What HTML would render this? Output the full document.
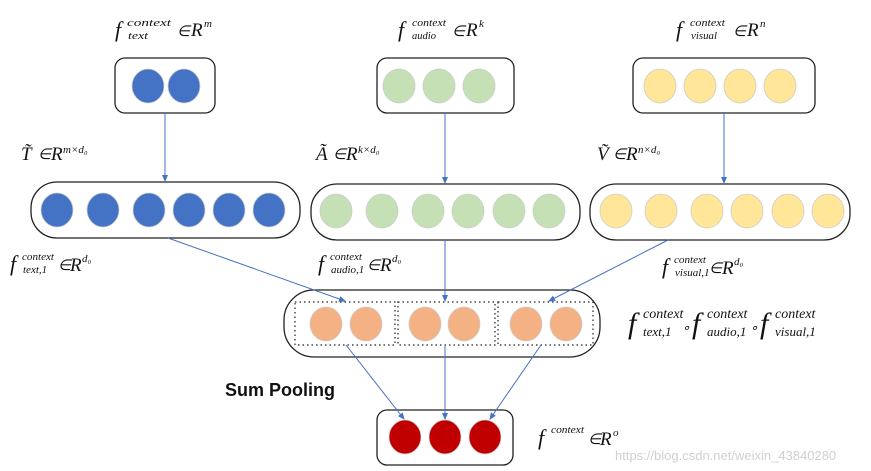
<!DOCTYPE html>
<html><head><meta charset="utf-8"><style>
html,body{margin:0;padding:0;background:#fff;}
svg{display:block;}
.m{font-family:"Liberation Serif",serif;font-style:italic;}
.s{font-family:"Liberation Serif",serif;font-style:italic;font-size:11px;}
</style></head><body>
<svg width="871" height="471" viewBox="0 0 871 471" xmlns="http://www.w3.org/2000/svg">
<defs>
<marker id="a" markerWidth="8" markerHeight="8" refX="6" refY="3" orient="auto" markerUnits="userSpaceOnUse">
<path d="M0,0 L7,3 L0,6 z" fill="#4472C4"/></marker>
</defs>
<g fill="none" stroke="#222" stroke-width="1.3">
<rect x="115" y="58" width="100" height="55" rx="10"/>
<rect x="377" y="58" width="137" height="55" rx="10"/>
<rect x="633" y="58" width="182" height="55" rx="10"/>
<rect x="31" y="182" width="269" height="56" rx="26"/>
<rect x="311" y="184" width="269" height="56" rx="26"/>
<rect x="590" y="184" width="260" height="56" rx="26"/>
<rect x="284" y="290" width="316" height="67" rx="30"/>
<rect x="377" y="410" width="136" height="55" rx="10"/>
</g>
<g fill="none" stroke="#222" stroke-width="1.2" stroke-dasharray="1.5,3">
<rect x="295" y="302" width="100" height="43"/>
<rect x="398" y="302" width="97" height="43"/>
<rect x="498" y="302" width="95" height="43"/>
</g>
<g stroke="#ccc" stroke-width="0.8">
<g fill="#4472C4">
<ellipse cx="148" cy="86" rx="16" ry="17"/><ellipse cx="184" cy="86" rx="16" ry="17"/>
<ellipse cx="57" cy="210" rx="16" ry="17"/><ellipse cx="103" cy="210" rx="16" ry="17"/><ellipse cx="149" cy="210" rx="16" ry="17"/><ellipse cx="189" cy="210" rx="16" ry="17"/><ellipse cx="229" cy="210" rx="16" ry="17"/><ellipse cx="269" cy="210" rx="16" ry="17"/>
</g>
<g fill="#C5E0B4">
<ellipse cx="399" cy="86" rx="16" ry="17"/><ellipse cx="439" cy="86" rx="16" ry="17"/><ellipse cx="479" cy="86" rx="16" ry="17"/>
<ellipse cx="336" cy="211" rx="16" ry="17"/><ellipse cx="382" cy="211" rx="16" ry="17"/><ellipse cx="428" cy="211" rx="16" ry="17"/><ellipse cx="468" cy="211" rx="16" ry="17"/><ellipse cx="509" cy="211" rx="16" ry="17"/><ellipse cx="549" cy="211" rx="16" ry="17"/>
</g>
<g fill="#FFE699">
<ellipse cx="660" cy="86" rx="16" ry="17"/><ellipse cx="700" cy="86" rx="16" ry="17"/><ellipse cx="740" cy="86" rx="16" ry="17"/><ellipse cx="780" cy="86" rx="16" ry="17"/>
<ellipse cx="616" cy="211" rx="16" ry="17"/><ellipse cx="661" cy="211" rx="16" ry="17"/><ellipse cx="707" cy="211" rx="16" ry="17"/><ellipse cx="747" cy="211" rx="16" ry="17"/><ellipse cx="788" cy="211" rx="16" ry="17"/><ellipse cx="828" cy="211" rx="16" ry="17"/>
</g>
<g fill="#F4B183">
<ellipse cx="326" cy="324" rx="16" ry="17"/><ellipse cx="366" cy="324" rx="16" ry="17"/><ellipse cx="425" cy="324" rx="16" ry="17"/><ellipse cx="464" cy="324" rx="16" ry="17"/><ellipse cx="526" cy="324" rx="16" ry="17"/><ellipse cx="566" cy="324" rx="16" ry="17"/>
</g>
<g fill="#C00000">
<ellipse cx="405" cy="437" rx="16" ry="17"/><ellipse cx="445" cy="437" rx="16" ry="17"/><ellipse cx="485" cy="437" rx="16" ry="17"/>
</g>
</g>
<g stroke="#4472C4" stroke-width="1" marker-end="url(#a)">
<line x1="165" y1="113" x2="165" y2="181"/>
<line x1="445" y1="113" x2="445" y2="183"/>
<line x1="724" y1="113" x2="724" y2="183"/>
<line x1="168" y1="238" x2="345" y2="301"/>
<line x1="445" y1="240" x2="445" y2="301"/>
<line x1="668" y1="240" x2="549" y2="301"/>
<line x1="346" y1="345" x2="404" y2="419"/>
<line x1="445" y1="345" x2="445" y2="419"/>
<line x1="541" y1="345" x2="490" y2="419"/>
</g>
<g fill="#111">
<text class="m" x="115" y="37" font-size="22">f</text><text class="s" x="127" y="26" textLength="44" lengthAdjust="spacingAndGlyphs">context</text><text class="s" x="128" y="39" textLength="20" lengthAdjust="spacingAndGlyphs">text</text><text class="m" x="177" y="36" font-size="15">∈</text><text class="m" x="191" y="36" font-size="19">R</text><text class="s" x="204" y="27">m</text>
<text class="m" x="398" y="37" font-size="22">f</text><text class="s" x="412" y="26" textLength="34" lengthAdjust="spacingAndGlyphs">context</text><text class="s" x="412" y="39" textLength="24" lengthAdjust="spacingAndGlyphs">audio</text><text class="m" x="452" y="36" font-size="15">∈</text><text class="m" x="466" y="36" font-size="19">R</text><text class="s" x="479" y="27">k</text>
<text class="m" x="676" y="37" font-size="22">f</text><text class="s" x="690" y="26" textLength="35" lengthAdjust="spacingAndGlyphs">context</text><text class="s" x="691" y="39" textLength="26" lengthAdjust="spacingAndGlyphs">visual</text><text class="m" x="733" y="36" font-size="15">∈</text><text class="m" x="747" y="36" font-size="19">R</text><text class="s" x="760" y="27">n</text>
<text class="m" x="21" y="160" font-size="19">T̃</text><text class="m" x="38" y="159" font-size="15">∈</text><text class="m" x="51" y="160" font-size="19">R</text><text class="s" x="63" y="153">m×d₀</text>
<text class="m" x="316" y="160" font-size="19">Ã</text><text class="m" x="333" y="159" font-size="15">∈</text><text class="m" x="346" y="160" font-size="19">R</text><text class="s" x="358" y="153">k×d₀</text>
<text class="m" x="597" y="160" font-size="19">Ṽ</text><text class="m" x="613" y="159" font-size="15">∈</text><text class="m" x="626" y="160" font-size="19">R</text><text class="s" x="638" y="153">n×d₀</text>
<text class="m" x="10" y="271" font-size="22">f</text><text class="s" x="22" y="260" textLength="32" lengthAdjust="spacingAndGlyphs">context</text><text class="s" x="23" y="273">text,1</text><text class="m" x="58" y="270" font-size="15">∈</text><text class="m" x="70" y="271" font-size="19">R</text><text class="s" x="82" y="262">d₀</text>
<text class="m" x="318" y="271" font-size="22">f</text><text class="s" x="330" y="260" textLength="32" lengthAdjust="spacingAndGlyphs">context</text><text class="s" x="331" y="273">audio,1</text><text class="m" x="367" y="270" font-size="15">∈</text><text class="m" x="380" y="271" font-size="19">R</text><text class="s" x="392" y="262">d₀</text>
<text class="m" x="662" y="274" font-size="22">f</text><text class="s" x="674" y="263" textLength="32" lengthAdjust="spacingAndGlyphs">context</text><text class="s" x="675" y="276">visual,1</text><text class="m" x="709" y="273" font-size="15">∈</text><text class="m" x="722" y="274" font-size="19">R</text><text class="s" x="734" y="265">d₀</text>
<text class="m" x="628" y="333" font-size="30">f</text><text class="m" x="643" y="318" font-size="14">context</text><text class="m" x="643" y="336" font-size="13">text,1</text>
<text class="m" x="682" y="332" font-size="13">∘</text>
<text class="m" x="692" y="333" font-size="30">f</text><text class="m" x="707" y="318" font-size="14">context</text><text class="m" x="707" y="336" font-size="13">audio,1</text>
<text class="m" x="750" y="332" font-size="13">∘</text>
<text class="m" x="760" y="333" font-size="30">f</text><text class="m" x="775" y="318" font-size="14">context</text><text class="m" x="775" y="336" font-size="13">visual,1</text>
<text x="225" y="396" font-family="Liberation Sans,sans-serif" font-weight="bold" font-size="18">Sum Pooling</text>
<text class="m" x="538" y="445" font-size="22">f</text><text class="s" x="551" y="433" textLength="33" lengthAdjust="spacingAndGlyphs">context</text><text class="m" x="588" y="444" font-size="15">∈</text><text class="m" x="600" y="445" font-size="19">R</text><text class="s" x="613" y="436">o</text>
</g>
<text x="615" y="460" font-family="Liberation Sans,sans-serif" font-size="13" fill="#d0d0d0">https://blog.csdn.net/weixin_43840280</text>
</svg>
</body></html>
